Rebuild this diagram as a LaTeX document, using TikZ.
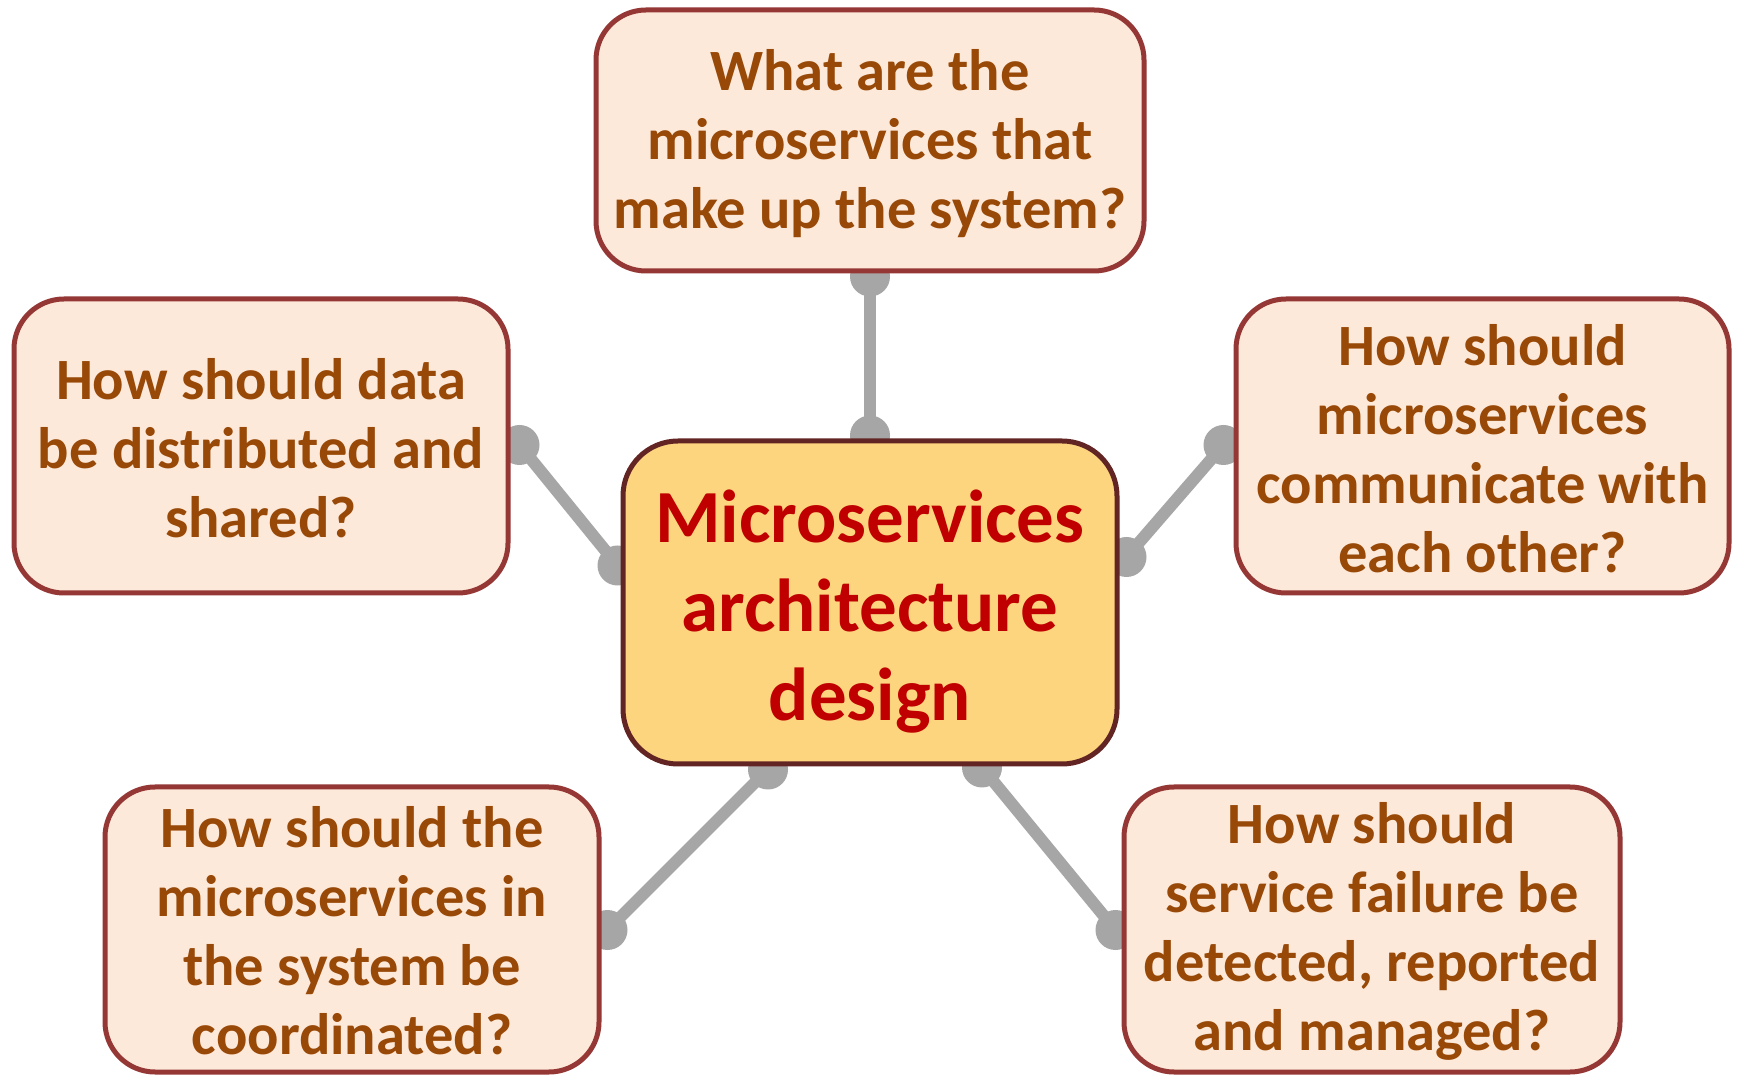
\documentclass[tikz,border=0pt]{standalone}
\usepackage{fontspec}
\setmainfont{Carlito}
\usetikzlibrary{backgrounds,calc}
\definecolor{qfill}{HTML}{FDE9D9}
\definecolor{qdraw}{HTML}{953735}
\definecolor{qtext}{HTML}{984807}
\definecolor{cfill}{HTML}{FCD57E}
\definecolor{cdraw}{HTML}{632523}
\definecolor{ctext}{HTML}{C00000}
\definecolor{conncol}{HTML}{A6A6A6}
\begin{document}
\begin{tikzpicture}[x=1pt,y=1pt,
  qbox/.style={draw=qdraw, fill=qfill, line width=5pt, rounded corners=50pt, inner sep=0pt},
  qlabel/.style={text=qtext, align=center, inner sep=0pt,
    font=\fontsize{58.5}{69}\selectfont\bfseries},
  cbox/.style={draw=cdraw, fill=cfill, line width=5pt, rounded corners=55pt, inner sep=0pt},
  clabel/.style={text=ctext, align=center, inner sep=0pt,
    font=\fontsize{75}{89}\selectfont\bfseries},
  conn/.style={draw=conncol, line width=12pt},
  dot/.style={fill=conncol}]
\useasboundingbox (0,0) rectangle (1737,1074);
% boxes
\node[cbox, minimum width=494pt, minimum height=323pt] (c) at (870,471.5) {};
\node[qbox, minimum width=548pt, minimum height=261pt] (top) at (870,933.5) {};
\node[qbox, minimum width=494pt, minimum height=294pt] (left) at (261,628) {};
\node[qbox, minimum width=493pt, minimum height=294pt] (right) at (1482.5,628) {};
\node[qbox, minimum width=494pt, minimum height=285pt] (bl) at (352,144.5) {};
\node[qbox, minimum width=496pt, minimum height=285pt] (br) at (1372,144.5) {};
% texts
\node[clabel] (ct) at ($(c)+(0,-9)$) {Microservices\\architecture\\design};
\node[qlabel] (topt) at ($(top)+(0,-3)$) {What are the\\microservices that\\make up the system?};
\node[qlabel] (leftt) at ($(left)+(0,-2.5)$) {How should data\\be distributed and\\shared?};
\node[qlabel] (rightt) at ($(right)+(0,-2.5)$) {How should\\microservices\\communicate with\\each other?};
\node[qlabel] (blt) at ($(bl)+(0,-1.5)$) {How should the\\microservices in\\the system be\\coordinated?};
\node[qlabel] (brt) at ($(br)+(0,-1.5)$) {How should\\service failure be\\detected, reported\\and managed?};
\begin{scope}[on background layer]
  \fill[white] (0,0) rectangle (1737,1074);
  % top
  \coordinate (ta) at ($(top.south)+(0,-3)$);
  \coordinate (tb) at ($(c.north)+(0,3)$);
  \draw[conn] (ta) -- (tb);
  \fill[dot] (ta) circle (20pt);
  \fill[dot] (tb) circle (20pt);
  % left
  \coordinate (la) at ($(left.east)+(9,1)$);
  \coordinate (lb) at ($(c.west)+(-3,37)$);
  \draw[conn] (la) -- (lb);
  \fill[dot] (la) circle (20pt);
  \fill[dot] (lb) circle (20pt);
  % right
  \coordinate (ra) at ($(right.west)+(-10,1)$);
  \coordinate (rb) at ($(c.east)+(7,45.5)$);
  \draw[conn] (ra) -- (rb);
  \fill[dot] (ra) circle (20pt);
  \fill[dot] (rb) circle (20pt);
  % bottom left
  \coordinate (bla) at ($(bl.east)+(6,-0.5)$);
  \coordinate (blb) at ($(c.south)+(-102,-3)$);
  \draw[conn] (bla) -- (blb);
  \fill[dot] (bla) circle (20pt);
  \fill[dot] (blb) circle (20pt);
  % bottom right
  \coordinate (bra) at ($(br.west)+(-6,-0.5)$);
  \coordinate (brb) at ($(c.south)+(112,-1)$);
  \draw[conn] (bra) -- (brb);
  \fill[dot] (bra) circle (20pt);
  \fill[dot] (brb) circle (20pt);
\end{scope}
\end{tikzpicture}
\end{document}
